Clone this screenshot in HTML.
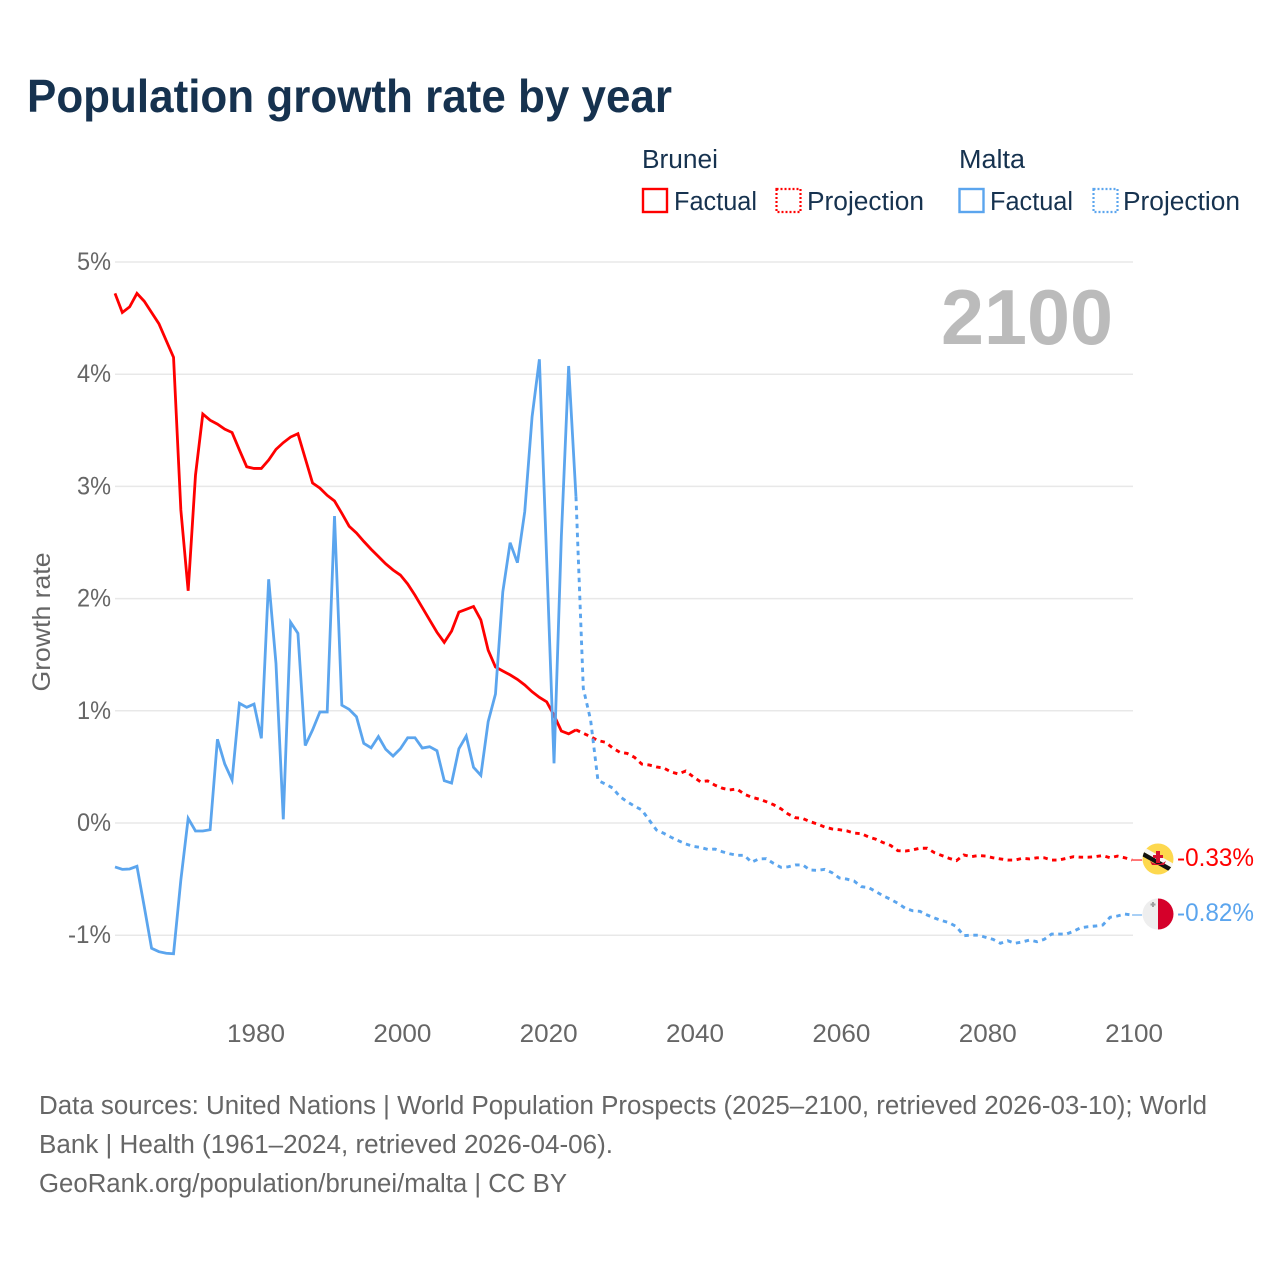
<!DOCTYPE html>
<html lang="en">
<head>
<meta charset="utf-8">
<title>Population growth rate by year</title>
<style>
html,body{margin:0;padding:0;background:#fff;}
svg{display:block;font-family:"Liberation Sans",sans-serif;}
</style>
</head>
<body>
<svg id="chart" xmlns="http://www.w3.org/2000/svg" width="1280" height="1280" viewBox="0 0 1280 1280">
<rect width="1280" height="1280" fill="#fff"/>
<text x="27" y="112" font-size="46" font-weight="700" fill="#16324f" textLength="645" lengthAdjust="spacingAndGlyphs">Population growth rate by year</text>

<g font-size="25.5" fill="#16324f">
<text x="642" y="168" textLength="76" lengthAdjust="spacingAndGlyphs">Brunei</text>
<rect x="643" y="189" width="24" height="23" fill="none" stroke="#ff0000" stroke-width="2.4"/>
<text x="674" y="210" textLength="83" lengthAdjust="spacingAndGlyphs">Factual</text>
<rect x="776.5" y="189" width="24" height="23" fill="none" stroke="#ff0000" stroke-width="2.2" stroke-dasharray="2 2"/>
<text x="807" y="210" textLength="117" lengthAdjust="spacingAndGlyphs">Projection</text>
<text x="959" y="168" textLength="66" lengthAdjust="spacingAndGlyphs">Malta</text>
<rect x="959.5" y="189" width="24" height="23" fill="none" stroke="#5ba5ee" stroke-width="2.4"/>
<text x="990" y="210" textLength="83" lengthAdjust="spacingAndGlyphs">Factual</text>
<rect x="1093.5" y="189" width="24" height="23" fill="none" stroke="#5ba5ee" stroke-width="2.2" stroke-dasharray="2 2"/>
<text x="1123" y="210" textLength="117" lengthAdjust="spacingAndGlyphs">Projection</text>
</g>

<g id="grid"></g>
<g id="y-labels"></g>
<g id="x-labels"></g>

<text transform="translate(50 622) rotate(-90)" text-anchor="middle" font-size="25" fill="#666666" textLength="139" lengthAdjust="spacingAndGlyphs">Growth rate</text>
<text x="1113" y="344" text-anchor="end" font-size="78" font-weight="700" fill="#bbbbbb" textLength="172" lengthAdjust="spacingAndGlyphs">2100</text>

<g id="series"></g>

<defs>
<clipPath id="clip-bn"><circle cx="1158" cy="859" r="15.5"/></clipPath>
<clipPath id="clip-mt"><circle cx="1158" cy="914" r="15.5"/></clipPath>
</defs>
<g clip-path="url(#clip-bn)">
<rect x="1142" y="843" width="32" height="32" fill="#fdd84e"/>
<polygon points="1140,845 1176,865 1176,870 1140,850" fill="#f6f6f6"/>
<polygon points="1140,850 1176,870 1176,875 1140,855" fill="#111111"/>
<path d="M1150 861 q8 6 16 0 l-2 4 h-12z M1156 851 h4 v12 h-4z M1153 855 h10 v3 h-10z" fill="#d5102e"/>
</g>
<g clip-path="url(#clip-mt)">
<rect x="1142" y="898" width="16" height="32" fill="#eeeeee"/>
<rect x="1158" y="898" width="16" height="32" fill="#d5002a"/>
<path d="M1150.5 904.5 h5 M1153 902 v5" stroke="#a0a0a0" stroke-width="2" fill="none"/>
</g>
<text x="1177" y="866" font-size="25" fill="#ff0000" textLength="77" lengthAdjust="spacingAndGlyphs">-0.33%</text>
<text x="1177" y="921" font-size="25" fill="#5ba5ee" textLength="77" lengthAdjust="spacingAndGlyphs">-0.82%</text>

<g font-size="25.5" fill="#666666">
<text x="39" y="1114" textLength="1168" lengthAdjust="spacingAndGlyphs">Data sources: United Nations | World Population Prospects (2025–2100, retrieved 2026-03-10); World</text>
<text x="39" y="1153" textLength="574" lengthAdjust="spacingAndGlyphs">Bank | Health (1961–2024, retrieved 2026-04-06).</text>
<text x="39" y="1192" textLength="528" lengthAdjust="spacingAndGlyphs">GeoRank.org/population/brunei/malta | CC BY</text>
</g>
</svg>
<script>
const yTickValues = [5, 4, 3, 2, 1, 0, -1];
const yTickLabels = ['5%', '4%', '3%', '2%', '1%', '0%', '-1%'];
const xTickYears = [1980, 2000, 2020, 2040, 2060, 2080, 2100];
const startYear = 1961;
const projectionStartYear = 2024;

const bruneiFactual = [4.72,4.55,4.60,4.72,4.65,4.55,4.45,4.30,4.15,2.79,2.07,3.10,3.645,3.59,3.555,3.51,3.48,3.325,3.175,3.16,3.16,3.235,3.33,3.39,3.44,3.47,3.25,3.03,2.985,2.92,2.87,2.76,2.645,2.585,2.51,2.44,2.375,2.31,2.255,2.21,2.13,2.03,1.92,1.81,1.70,1.61,1.71,1.88,1.905,1.93,1.81,1.54,1.39,1.355,1.32,1.28,1.23,1.17,1.12,1.08,0.96,0.82,0.795,0.83];
const bruneiProjection = [0.83,0.80,0.77,0.735,0.72,0.67,0.63,0.62,0.585,0.525,0.517,0.50,0.49,0.455,0.437,0.463,0.413,0.368,0.375,0.337,0.31,0.295,0.303,0.257,0.23,0.213,0.19,0.163,0.127,0.08,0.047,0.04,0.012,-0.009,-0.036,-0.053,-0.06,-0.07,-0.09,-0.095,-0.125,-0.145,-0.175,-0.20,-0.247,-0.25,-0.24,-0.225,-0.225,-0.265,-0.29,-0.315,-0.335,-0.285,-0.30,-0.29,-0.295,-0.31,-0.32,-0.33,-0.33,-0.315,-0.32,-0.31,-0.31,-0.33,-0.33,-0.315,-0.30,-0.305,-0.305,-0.30,-0.29,-0.31,-0.295,-0.31,-0.33];
const maltaFactual = [-0.392,-0.413,-0.41,-0.386,-0.746,-1.117,-1.147,-1.161,-1.165,-0.508,0.042,-0.071,-0.071,-0.06,0.746,0.526,0.383,1.067,1.031,1.06,0.755,2.172,1.423,0.033,1.789,1.69,0.69,0.829,0.989,0.989,2.736,1.05,1.013,0.947,0.71,0.67,0.77,0.657,0.597,0.662,0.76,0.76,0.668,0.68,0.644,0.377,0.356,0.662,0.775,0.496,0.425,0.903,1.15,2.06,2.498,2.32,2.775,3.62,4.133,2.344,0.532,2.55,4.073,2.908];
const maltaProjection = [2.908,1.2,0.918,0.38,0.348,0.312,0.235,0.19,0.15,0.116,0.027,-0.062,-0.092,-0.127,-0.158,-0.187,-0.208,-0.217,-0.235,-0.232,-0.256,-0.274,-0.288,-0.288,-0.35,-0.32,-0.318,-0.36,-0.395,-0.39,-0.374,-0.374,-0.419,-0.422,-0.413,-0.443,-0.49,-0.5,-0.517,-0.567,-0.576,-0.612,-0.65,-0.68,-0.716,-0.76,-0.782,-0.787,-0.82,-0.847,-0.87,-0.889,-0.924,-1.004,-1.0,-1.0,-1.019,-1.037,-1.072,-1.049,-1.072,-1.06,-1.043,-1.058,-1.037,-0.99,-0.99,-0.99,-0.965,-0.933,-0.924,-0.918,-0.909,-0.84,-0.829,-0.811,-0.82];

const NS = 'http://www.w3.org/2000/svg';
const RED = '#ff0000';
const BLUE = '#5ba5ee';

function xScale(year) { return 115 + (year - 1961) * 7.317; }
function yScale(value) { return 823 - value * 112.2; }

function linePath(values, firstYear) {
  return values.map(function (v, i) {
    return (i ? 'L' : 'M') + xScale(firstYear + i).toFixed(2) + ' ' + yScale(v).toFixed(2);
  }).join(' ');
}

const grid = document.getElementById('grid');
const yLabels = document.getElementById('y-labels');
yTickValues.forEach(function (v, i) {
  const gridLine = document.createElementNS(NS, 'line');
  gridLine.setAttribute('x1', 115);
  gridLine.setAttribute('x2', 1133);
  gridLine.setAttribute('y1', yScale(v));
  gridLine.setAttribute('y2', yScale(v));
  gridLine.setAttribute('stroke', '#e8e8e8');
  gridLine.setAttribute('stroke-width', 1.5);
  
  
  grid.appendChild(gridLine);

  const label = document.createElementNS(NS, 'text');
  label.setAttribute('x', 111);
  label.setAttribute('y', yScale(v) + 8);
  label.setAttribute('text-anchor', 'end');
  label.setAttribute('font-size', 25);
  label.setAttribute('fill', '#666666');
  label.setAttribute('textLength', yTickLabels[i].length > 2 ? 43 : 34);
  label.setAttribute('lengthAdjust', 'spacingAndGlyphs');
  
  
  label.textContent = yTickLabels[i];
  yLabels.appendChild(label);
});

const xLabels = document.getElementById('x-labels');
xTickYears.forEach(function (year) {
  const label = document.createElementNS(NS, 'text');
  label.setAttribute('x', xScale(year) + 2);
  label.setAttribute('y', 1042);
  label.setAttribute('text-anchor', 'middle');
  label.setAttribute('font-size', 25);
  label.setAttribute('fill', '#666666');
  label.setAttribute('textLength', 58);
  label.setAttribute('lengthAdjust', 'spacingAndGlyphs');
  
  
  label.textContent = year;
  xLabels.appendChild(label);
});

const seriesGroup = document.getElementById('series');

const bruneiFactualLine = document.createElementNS(NS, 'path');
bruneiFactualLine.setAttribute('d', linePath(bruneiFactual, startYear));
bruneiFactualLine.setAttribute('fill', 'none');
bruneiFactualLine.setAttribute('stroke', RED);
bruneiFactualLine.setAttribute('stroke-width', 2.8);


seriesGroup.appendChild(bruneiFactualLine);

const maltaFactualLine = document.createElementNS(NS, 'path');
maltaFactualLine.setAttribute('d', linePath(maltaFactual, startYear));
maltaFactualLine.setAttribute('fill', 'none');
maltaFactualLine.setAttribute('stroke', BLUE);
maltaFactualLine.setAttribute('stroke-width', 2.8);


seriesGroup.appendChild(maltaFactualLine);

const bruneiProjectionLine = document.createElementNS(NS, 'path');
bruneiProjectionLine.setAttribute('d', linePath(bruneiProjection, projectionStartYear));
bruneiProjectionLine.setAttribute('fill', 'none');
bruneiProjectionLine.setAttribute('stroke', RED);
bruneiProjectionLine.setAttribute('stroke-width', 2.9);
bruneiProjectionLine.setAttribute('stroke-dasharray', '4.5 4.5');


seriesGroup.appendChild(bruneiProjectionLine);

const maltaProjectionLine = document.createElementNS(NS, 'path');
maltaProjectionLine.setAttribute('d', linePath(maltaProjection, projectionStartYear));
maltaProjectionLine.setAttribute('fill', 'none');
maltaProjectionLine.setAttribute('stroke', BLUE);
maltaProjectionLine.setAttribute('stroke-width', 2.9);
maltaProjectionLine.setAttribute('stroke-dasharray', '4.5 4.5');


seriesGroup.appendChild(maltaProjectionLine);

const lastYear = projectionStartYear + bruneiProjection.length - 1;

const bruneiConnector = document.createElementNS(NS, 'line');
bruneiConnector.setAttribute('x1', xScale(lastYear));
bruneiConnector.setAttribute('x2', xScale(lastYear) + 10);
bruneiConnector.setAttribute('y1', yScale(bruneiProjection[bruneiProjection.length - 1]));
bruneiConnector.setAttribute('y2', yScale(bruneiProjection[bruneiProjection.length - 1]));
bruneiConnector.setAttribute('stroke', RED);
bruneiConnector.setAttribute('stroke-opacity', 0.7);
bruneiConnector.setAttribute('stroke-width', 1.5);


seriesGroup.appendChild(bruneiConnector);

const maltaConnector = document.createElementNS(NS, 'line');
maltaConnector.setAttribute('x1', xScale(lastYear));
maltaConnector.setAttribute('x2', xScale(lastYear) + 10);
maltaConnector.setAttribute('y1', yScale(maltaProjection[maltaProjection.length - 1]));
maltaConnector.setAttribute('y2', yScale(maltaProjection[maltaProjection.length - 1]));
maltaConnector.setAttribute('stroke', BLUE);
maltaConnector.setAttribute('stroke-opacity', 0.7);
maltaConnector.setAttribute('stroke-width', 1.5);


seriesGroup.appendChild(maltaConnector);
</script>
</body>
</html>
